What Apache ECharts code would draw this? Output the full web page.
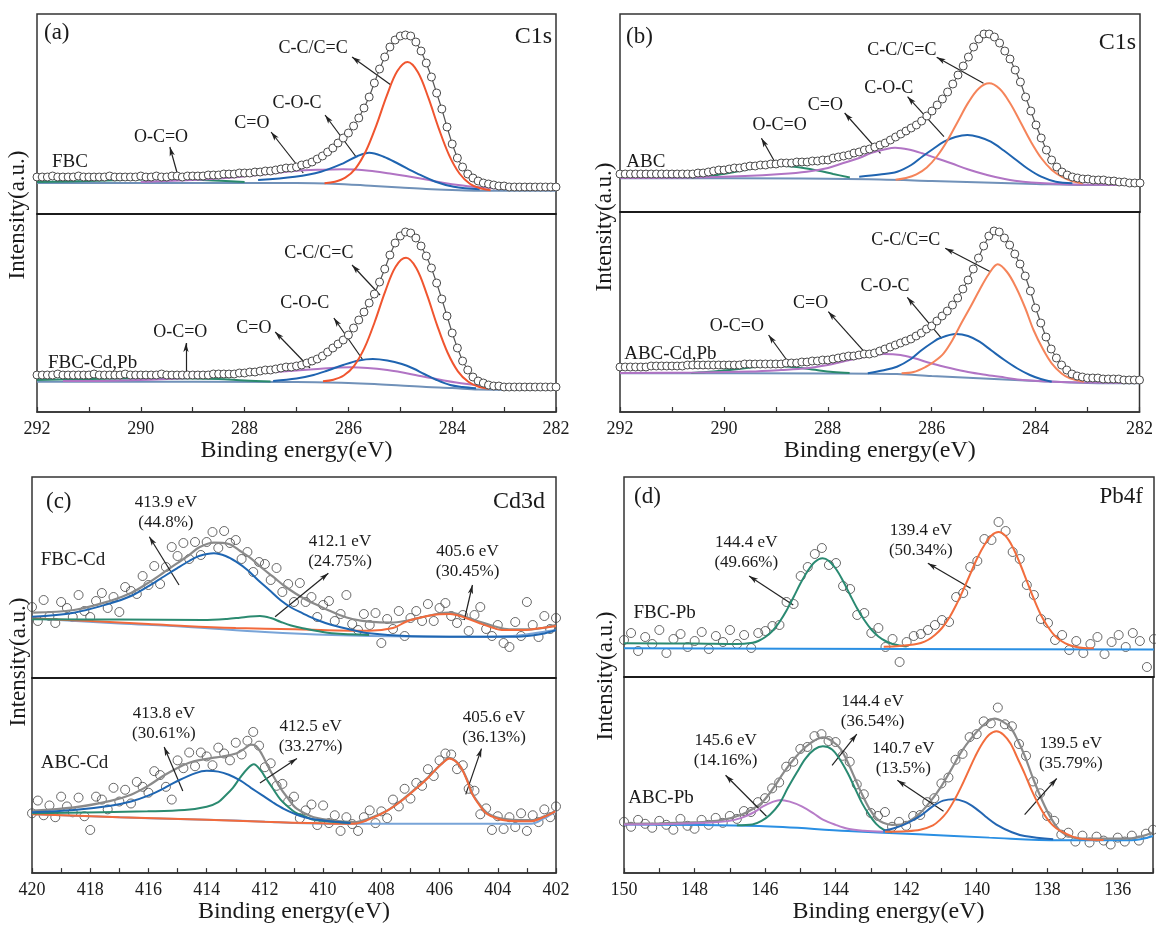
<!DOCTYPE html>
<html><head><meta charset="utf-8">
<script src="https://cdn.jsdelivr.net/npm/echarts/dist/echarts.min.js"></script>
<style>html,body{margin:0;padding:0;background:#fff}#c{width:1156px;height:925px}</style>
</head><body><div id="c"></div>
<script>
// ---------- energy grids ----------
const c1sE = Array.from({length:101}, (_, i) => +(292 - 0.1 * i).toFixed(2));
const cdE  = Array.from({length:91},  (_, i) => +(420 - 0.2 * i).toFixed(2));
const pbE  = Array.from({length:76},  (_, i) => +(150 - 0.2 * i).toFixed(2));

// ---------- tick labels ----------
const c1sTicks = [292, 290, 288, 286, 284, 282];
const cdTicks = [420, 418, 416, 414, 412, 410, 408, 406, 404, 402];
const pbTicks = [150, 148, 146, 144, 142, 140, 138, 136];

// ---------- (a) FBC C1s ----------
const aTopRaw = [37,37,37,38,37,37,37,37,38,37, 37,37,37,37,38,37,37,37,37,37, 38,37,37,38,37,37,38,38,37,38,
  38,38,38,39,39,39,40,40,40,41, 41,41,42,42,43,43,44,45,46,46, 47,49,50,52,55,58,62,66,71,76,
  81,88,96,106,117,131,145,157,167,174, 178,179,178,172,163,151,137,121,105,87,
  70,56,47,40,36,33,31,30,29,28, 28,27,27,27,27,27,27,27,27,27,27];
const aTopBg = [[292,31],[287,31],[286,29.5],[285.5,28],[285,26.5],[284.5,25],[284,24],[283.5,23.3],[282,23.3]];
const aTopGreen = [[292,32],[291,33],[290,34.5],[289.3,35],[288.6,33.5],[288,32]];
const aTopPurple = [[290,32],[289,34],[288.45,35.7],[287.74,39],[287.03,43],[286.5,44.3],[286.1,44.7],[285.6,43.3],[285.2,40.5],[284.89,38],[284.5,34.5],[284.18,31.3],[283.8,28.5],[283.47,26.7],[282.75,24.7],[282,24]];
const aTopBlue = [[287.74,34],[287.03,37.3],[286.53,42.3],[286.1,50.7],[285.82,58],[285.6,61.3],[285.32,57.3],[285.03,50],[284.68,40.7],[284.32,32.3],[283.97,27.3],[283.47,24.7]];
const aTopRed = [[286.46,30.8],[286.26,32.3],[286.06,36.3],[285.86,45.7],[285.66,63.2],[285.46,88.9],[285.26,118.4],[285.06,142.7],[284.86,152],[284.66,141.8],[284.46,116.3],[284.26,85.7],[284.06,58.9],[283.86,40.5],[283.66,30.3],[283.46,25.7],[283.26,23.8]];
const aTopNotes = [
  {text:'C-C/C=C', at:[286.68,166], from:[285.18,129], to:[285.93,157]},
  {text:'C-O-C', at:[286.99,111], from:[285.85,57], to:[286.45,99]},
  {text:'C=O', at:[287.86,91], from:[286.87,41], to:[287.49,82]},
  {text:'O-C=O', at:[289.61,77], from:[289.30,41], to:[289.44,67]},
  {text:'FBC', at:[291.71,52], name:true}
];

const aBotRaw = [37,37,37,37,38,37,37,37,37,37, 37,38,37,37,37,37,37,38,37,37, 37,37,37,37,38,37,37,37,37,37,
  37,37,37,37,38,38,38,38,38,39, 39,40,40,41,42,42,43,44,45,45, 46,47,49,51,53,56,60,64,68,72,
  77,84,92,100,109,118,130,143,157,169, 176,180,179,174,166,156,144,129,113,96,
  79,64,51,42,35,31,29,27,26,26, 25,25,25,25,25,25,25,25,25,25,25];
const aBotBg = [[292,30.3],[287,30],[286,29],[285.5,28],[285,26.5],[284.5,25],[284,24],[283.5,22.5],[282,22]];
const aBotGreen = [[292,32],[291,33],[290,33.5],[289,33.5],[288.5,33],[288,31.5],[287.5,30.5]];
const aBotPurple = [[291.5,31],[290.58,31.3],[289.16,33.7],[287.74,38.7],[286.67,42.7],[285.96,44.7],[285.25,42],[284.54,35.3],[283.83,28.7],[282.76,23.7],[282,22.7]];
const aBotBlue = [[287.45,31],[287,33.5],[286.67,37],[286.4,41.5],[286.1,47],[285.8,51.5],[285.53,53],[285.25,51.5],[284.97,48],[284.75,43.5],[284.54,38],[284.3,32],[284.04,27],[283.8,25],[283.54,23.7]];
const aBotRed = [[286.49,30.8],[286.29,32.3],[286.09,36.5],[285.89,46.2],[285.69,64.1],[285.49,90.5],[285.29,120.7],[285.09,145.3],[284.89,154.2],[284.69,143.8],[284.49,117.9],[284.29,86.7],[284.09,59.5],[283.89,40.7],[283.69,30.2],[283.49,25.2],[283.29,23.3]];
const aBotNotes = [
  {text:'C-C/C=C', at:[286.57,159], from:[285.39,117], to:[285.93,147]},
  {text:'C-O-C', at:[286.84,109], from:[285.72,52], to:[286.28,94]},
  {text:'C=O', at:[287.82,84], from:[286.74,44], to:[287.41,80]},
  {text:'O-C=O', at:[289.24,80], from:[289.13,35], to:[289.13,69]},
  {text:'FBC-Cd,Pb', at:[291.79,49], name:true}
];

// ---------- (b) ABC C1s ----------
const bTopRaw = [38,38,38,38,38,38,38,38,38,38, 38,38,38,38,38,39,39,40,41,42, 42,43,44,44,45,46,46,47,47,48,
  48,49,49,49,50,50,50,51,51,52, 52,54,55,56,57,59,60,62,63,65, 67,69,72,75,78,81,84,87,91,96,
  101,107,113,120,128,137,146,155,165,173, 178,178,175,169,161,153,142,130,115,101,
  87,74,62,52,45,40,37,35,34,33, 33,32,32,32,31,31,30,30,29,29,29];
const bTopBg = [[292,33.7],[288.5,33.5],[287,32.5],[286,31],[285,29.5],[284,28],[283,27],[282,27]];
const bTopGreen = [[290.63,34],[290.2,36.5],[289.8,40],[289.4,44],[289.0,46.3],[288.6,45],[288.2,41.5],[287.9,38],[287.58,34.5]];
const bTopPurple = [[292,34],[290.6,34.5],[289.6,36],[288.9,38],[288.41,40.3],[288.0,44],[287.72,48.7],[287.4,54],[287.16,59.3],[286.9,62.8],[286.71,64.3],[286.45,62.5],[286.19,58.7],[285.9,53.5],[285.63,48.7],[285.3,42.5],[284.94,37],[284.6,33],[284.25,30.3],[283.56,28],[282.8,27.2],[282,27]];
const bTopBlue = [[287.4,35.3],[287.0,37.5],[286.67,40.3],[286.4,47],[286.19,55.3],[285.98,63],[285.77,70.3],[285.55,75],[285.32,77],[285.1,75],[284.87,70.3],[284.62,61.5],[284.38,52],[284.15,43],[283.9,35.3],[283.62,30.3],[283.3,28.7]];
const bTopRed = [[286.7,32.3],[286.5,34],[286.3,37.6],[286.1,44.5],[285.9,56],[285.7,71.8],[285.5,90.8],[285.3,109.6],[285.1,123.5],[284.9,128.7],[284.7,123.2],[284.5,109],[284.3,90],[284.1,70.5],[283.9,54],[283.7,42.3],[283.5,35],[283.3,30.7],[283.1,28.5]];
const bTopNotes = [
  {text:'C-C/C=C', at:[286.58,162], from:[285.01,128.7], to:[285.91,154.7]},
  {text:'C-O-C', at:[286.83,124], from:[285.77,75.3], to:[286.47,115.3]},
  {text:'C=O', at:[288.05,107], from:[286.99,58.7], to:[287.68,99]},
  {text:'O-C=O', at:[288.93,87], from:[288.97,45.3], to:[289.28,73.7]},
  {text:'ABC', at:[291.88,50], name:true}
];

const bBotRaw = [45,45,45,45,45,45,46,46,46,46, 46,46,46,47,47,47,47,47,47,47, 47,47,47,47,48,48,48,48,48,48,
  48,48,49,49,49,50,50,51,51,52, 52,53,54,55,56,56,57,58,58,59, 61,63,65,67,69,71,73,76,79,83,
  86,91,96,101,107,114,123,132,143,154, 166,176,181,180,174,167,158,148,136,121,
  104,89,75,63,54,47,42,38,36,35, 34,34,34,33,33,33,33,32,32,32,32];
const bBotBg = [[292,38.7],[288,38.5],[286.67,38],[286,36],[285,33.5],[284,31],[283,29],[282,28.7]];
const bBotGreen = [[290.63,39],[290.2,40.5],[289.8,42.5],[289.4,45],[289.11,46.3],[288.7,45],[288.3,42.5],[287.9,40],[287.58,39]];
const bBotPurple = [[292,39],[290.5,39.5],[289.5,40.5],[288.9,42],[288.41,43.7],[288.0,47],[287.72,50.3],[287.3,55],[286.92,58],[286.6,57],[286.33,53.7],[286.0,48.5],[285.63,43.7],[285.3,40],[284.94,37],[284.6,34.5],[284.25,32],[283.5,30],[282,29.3]];
const bBotBlue = [[287.23,38.7],[286.95,41.5],[286.67,45.3],[286.4,53],[286.19,62],[286.0,69],[285.85,73.7],[285.53,78],[285.3,76],[285.08,70.3],[284.85,61.5],[284.6,52],[284.35,43.5],[284.11,37],[283.9,33],[283.69,30.3]];
const bBotRed = [[286.58,38.7],[286.35,40],[286.12,45],[285.95,50.5],[285.77,58.7],[285.6,72],[285.43,88.7],[285.25,105.5],[285.08,122],[284.9,138],[284.73,147.7],[284.55,140],[284.38,125],[284.2,104],[284.04,82],[283.86,63],[283.69,48.7],[283.5,38.5],[283.34,33.7],[283.07,30.3]];
const bBotNotes = [
  {text:'C-C/C=C', at:[286.5,172], from:[284.87,140.3], to:[285.74,163.7]},
  {text:'C-O-C', at:[286.9,125.3], from:[285.81,73.7], to:[286.47,114.7]},
  {text:'C=O', at:[288.33,109], from:[287.3,60.3], to:[287.99,100.3]},
  {text:'O-C=O', at:[289.75,85.3], from:[288.72,47], to:[289.14,77]},
  {text:'ABC-Cd,Pb', at:[291.92,57.7], name:true}
];

// ---------- (c) Cd3d ----------
const cTopRaw = [71,57,78,62,55,76,70,61,83,67, 61,77,85,70,81,66,91,87,84,102, 93,112,94,111,131,122,135,119,136,123,
  136,146,130,147,135,138,119,126,106,116, 114,98,110,86,94,76,95,76,81,61, 73,77,57,64,83,54,48,64,53,65,
  35,59,49,67,42,60,67,57,74,57, 70,75,62,55,63,47,63,71,49,42, 53,35,31,56,42,76,53,41,62,49,60];
const cTopBg = [[420,59.7],[418.5,57],[417,54.5],[414.76,51.3],[412,46],[409.7,43],[407,41.5],[404.62,41.3],[403.5,42],[402.8,44.5],[402,48]];
const cTopBlue = [[420,61.3],[418.56,65.3],[417.3,74.7],[416.6,82],[416.03,91.3],[415.5,101],[415.02,109.7],[414.6,117],[414.26,122],[413.75,124.7],[413.35,122],[412.99,116.3],[412.6,108],[412.24,98],[411.85,88],[411.47,78],[411.1,70.5],[410.7,64.7],[410.2,58],[409.7,53],[409.0,48],[408.42,44.7],[407.15,42],[405,41.3],[403.35,41.3],[402.5,44],[402,48]];
const cTopGreen = [[420,58.7],[417,58.5],[414.13,58],[413.3,59],[412.86,60.3],[412.5,61.5],[412.17,62],[411.8,60],[411.47,56.3],[411.1,52.5],[410.7,49.7],[410.2,47],[409.7,44.7],[408.42,43]];
const cTopOrange = [[420,59.7],[418,57],[416,54],[414.76,52],[413,50],[410.96,48.7],[409.5,47.5],[408.42,47.3],[407.6,50],[407.15,56.3],[406.8,59.5],[406.52,61.3],[406.1,63.5],[405.64,64],[405.1,60],[404.62,54.7],[404.2,50.5],[403.86,48],[403.1,48],[402.5,50],[402,52]];
const cTopEnv = [[419.96,65.3],[418.56,68],[417.3,77.3],[416.6,85],[416.03,94.7],[415.5,105],[415.02,114.7],[414.6,123],[414.25,130.7],[413.75,135.3],[413.24,134],[412.85,127],[412.48,119.7],[412.1,110],[411.72,101.3],[411.35,92.5],[410.96,84.7],[410.6,78.5],[410.2,73],[409.8,67.5],[409.44,63],[409,59],[408.42,56.3],[407.67,55.3],[407.1,57.5],[406.52,61.3],[406.1,64],[405.63,65.3],[405.1,61],[404.62,56.3],[404.1,51.5],[403.61,48.7],[402.85,48.7],[402.02,53]];
const cTopNotes = [
  {text:'413.9 eV\n(44.8%)', at:[415.4,165], from:[414.95,93], to:[415.97,141.3]},
  {text:'412.1 eV\n(24.75%)', at:[409.42,126.3], from:[411.65,61.3], to:[409.82,104.7]},
  {text:'405.6 eV\n(30.45%)', at:[405.04,116.3], from:[405.15,58], to:[404.87,93]},
  {text:'FBC-Cd', at:[419.7,118], name:true}
];

const cBotRaw = [61,74,59,69,57,78,68,62,77,58, 44,78,75,65,87,73,85,71,93,88, 82,104,100,88,75,115,107,123,109,123,
  119,110,128,122,115,133,121,135,144,130, 108,112,89,91,73,78,56,64,70,49, 69,51,59,43,57,50,43,57,64,51,
  63,56,75,68,86,76,92,89,106,99, 115,122,121,106,110,86,84,60,66,44, 58,45,57,47,61,43,59,52,65,57,68];
const cBotBg = [[420,60.3],[418,58],[416,56],[414,54.5],[412,52.5],[410.96,51],[409.7,50.3],[406,50.3],[402.85,50.3],[402.4,56],[402,63]];
const cBotBlue = [[420,62],[418.56,64.3],[417.3,68.7],[416.6,73],[416.03,78.7],[415.5,86],[415.02,93.7],[414.38,102],[414.0,104.3],[413.6,103.5],[413.24,100.3],[412.85,94.5],[412.48,87],[412.1,79.5],[411.72,72],[411.35,65.5],[410.96,60.3],[410.6,56.8],[410.2,54.3],[409.6,52.5],[409.06,51]];
const cBotGreen = [[420,61],[416.03,63],[414.76,64.3],[414.0,67.7],[413.6,72.5],[413.37,78.7],[413.1,87],[412.86,97],[412.6,106.5],[412.38,111],[412.15,105],[411.97,97],[411.72,86],[411.47,75.3],[411.2,67.5],[410.96,62],[410.6,57.5],[410.32,54.3],[409.06,51]];
const cBotOrange = [[420,60],[417,57],[414,54.5],[412,52.3],[410,50.8],[408.94,50.3],[408.4,55],[407.79,63.7],[407.25,75],[406.77,87],[406.4,97],[406.14,105.3],[405.9,112],[405.66,117],[405.45,114],[405.25,107],[405.05,94],[404.87,80.3],[404.6,68],[404.37,60.3],[404.05,56],[403.73,53.7],[403.3,53],[402.85,53],[402.4,57.5],[402.02,63]];
const cBotEnv = [[419.96,63.7],[418.56,67],[417.3,73.7],[416.6,80],[416.03,88.7],[415.5,99],[415.02,107],[414.6,112.5],[414.25,115.3],[413.8,117.5],[413.49,118.7],[412.99,122],[412.7,127],[412.48,131],[412.3,129.5],[412.1,121],[411.86,107],[411.47,87],[411.2,76],[410.96,67],[410.6,60.5],[410.32,57],[409.7,53.7],[408.94,52],[408.4,56],[407.79,64],[407.25,75.5],[406.77,87.5],[406.4,97.5],[406.14,105.5],[405.9,112.5],[405.66,117.5],[405.45,114.5],[405.25,107.5],[405.05,95],[404.87,81],[404.6,69],[404.37,61.5],[404.05,57],[403.73,55],[403.3,54],[402.85,54],[402.4,58],[402.02,63.5]];
const cBotNotes = [
  {text:'413.8 eV\n(30.61%)', at:[415.47,153], from:[414.82,83.7], to:[415.46,128.7]},
  {text:'412.5 eV\n(33.27%)', at:[410.43,139.5], from:[412.17,92], to:[410.9,117]},
  {text:'405.6 eV\n(36.13%)', at:[404.13,148.7], from:[405.1,80.3], to:[404.56,127]},
  {text:'ABC-Cd', at:[419.7,112], name:true}
];

// ---------- (d) Pb4f ----------
const dTopRaw = [37,44,26,40,33,47,24,38,43,30, 36,45,28,41,35,47,33,42,29,44, 46,51,52,75,73,101,110,123,129,112,
  114,91,88,62,64,44,49,30,38,15, 35,41,43,47,52,57,55,80,84,110, 116,138,137,155,146,125,118,92,82,58,
  54,37,42,27,36,24,33,40,23,35, 42,30,44,36,10,38];
const dTopBg = [[150,28.7],[142,28],[135,27.5]];
const dTopGreen = [[150,33.7],[148,33.5],[146.8,33],[146.36,34.3],[146.2,36],[146,40],[145.8,46],[145.6,55],[145.4,66.5],[145.2,80],[145,94],[144.8,106],[144.6,115],[144.38,118.7],[144.2,116],[144,108],[143.8,96],[143.6,82],[143.4,68.5],[143.2,57],[143,47.5],[142.8,40.5],[142.6,36],[142.4,33],[142.2,31.5],[142.0,30.5]];
const dTopOrange = [[142.65,30.3],[142.2,31],[141.8,32.5],[141.6,34],[141.4,37],[141.2,42],[141,49],[140.8,59],[140.6,72],[140.4,87],[140.2,103],[140,119],[139.8,132],[139.6,141.5],[139.4,145],[139.2,141],[139,130],[138.8,114],[138.6,96],[138.4,78],[138.2,62],[138,50],[137.8,41],[137.6,35.5],[137.4,32],[137.2,30],[137,29],[136.7,28.7]];
const dTopNotes = [
  {text:'144.4 eV\n(49.66%)', at:[146.54,124.5], from:[145.21,72], to:[146.46,101]},
  {text:'139.4 eV\n(50.34%)', at:[141.6,136.2], from:[140.19,88.7], to:[141.4,113.7]},
  {text:'FBC-Pb', at:[149.73,63.7], name:true}
];

const dBotRaw = [52,47,54,50,46,53,49,44,55,48, 45,54,49,56,51,58,55,63,62,72, 76,86,92,108,113,126,128,139,141,134,
  133,119,113,90,80,61,58,62,47,52, 48,58,59,72,76,91,97,115,121,138, 141,154,152,168,151,149,131,119,93,81,
  58,53,39,41,32,38,31,37,33,29, 36,32,38,33,40,44];
const dBotBg = [[150,49.3],[146.16,47.7],[143.65,42.7],[141.65,39.3],[139.64,36],[137.63,33.3],[135.62,33.3],[135,37.7]];
const dBotPurple = [[150,49.3],[148.5,50],[147.67,51],[147,53],[146.67,56],[146.3,62],[146.06,67.7],[145.8,72],[145.56,74.3],[145.3,72.5],[144.96,67.7],[144.6,60],[144.36,54.3],[144,49],[143.65,45],[143.2,43],[142.65,42]];
const dBotGreen = [[146.8,48.5],[146.36,49.3],[146.1,53],[145.86,59.3],[145.6,70],[145.36,86],[145.1,102],[144.86,116],[144.6,125.5],[144.36,128.7],[144.1,125.5],[143.86,114.3],[143.65,101],[143.45,86],[143.25,71],[143.05,59.3],[142.85,50],[142.65,44.3],[142.4,41.5]];
const dBotBlue = [[142.65,42.7],[142.3,46],[141.95,51],[141.6,58],[141.25,67.7],[140.95,73.5],[140.64,75],[140.35,72.5],[140.04,66],[139.75,57.5],[139.44,49.3],[139.0,41.5],[138.64,37.7],[137.83,34.3]];
const dBotOrange = [[142.6,42],[142.0,42.5],[141.6,44],[141.24,48.5],[141.04,54],[140.84,62],[140.64,73.6],[140.44,87.5],[140.24,103],[140.04,118.5],[139.84,131.5],[139.64,140.6],[139.44,144],[139.24,140.5],[139.04,131.5],[138.84,116.5],[138.64,101],[138.44,84],[138.24,69.3],[138.04,57],[137.84,48.4],[137.64,43],[137.24,36.5],[136.84,34],[136.4,33.5]];
const dBotEnv = [[150,50],[149,50.5],[148,51.5],[147.67,52],[147.2,54],[146.67,59.3],[146.35,65],[146.06,72.7],[145.75,87],[145.46,102.7],[145.15,117],[144.86,127.7],[144.6,134.5],[144.36,137.7],[144.1,134],[143.86,126],[143.65,112],[143.45,96],[143.25,80],[143.05,66],[142.85,56],[142.65,51],[142.4,49],[142.15,49.3],[141.9,53],[141.65,59.3],[141.35,71],[141.04,86],[140.74,104],[140.44,122.7],[140.14,137.5],[139.84,149.3],[139.65,154.5],[139.49,156.7],[139.25,153.5],[139.04,147.7],[138.84,135],[138.64,119.3],[138.4,96],[138.13,72.7],[137.88,55],[137.63,42.7],[137.38,37.5],[137.13,35.3],[136.5,35],[135.62,35.3],[135.3,37.5],[135.03,41]];
const dBotNotes = [
  {text:'144.4 eV\n(36.54%)', at:[142.95,163.5], from:[144.1,109.3], to:[143.4,141]},
  {text:'145.6 eV\n(14.16%)', at:[147.12,124.3], from:[145.96,57.7], to:[147.12,99.3]},
  {text:'140.7 eV\n(13.5%)', at:[142.08,116], from:[140.94,62.7], to:[142.25,94.3]},
  {text:'139.5 eV\n(35.79%)', at:[137.33,121], from:[138.64,59.3], to:[137.73,96]},
  {text:'ABC-Pb', at:[149.88,76], name:true}
];

// ---------- styling / layout ----------
const FONT = 'Liberation Serif';
const COL = {
  redA:'#f0552f', redB:'#f5845a', blue:'#1f64b0', purple:'#b174c4', green:'#2a8a6c', bgAB:'#7091b9',
  cBlue:'#1f66b2', cGreen:'#2b8a70', cOrange:'#f26a3c', cBg:'#78a4d8', env:'#8a8a8a',
  dGreen:'#2a8a72', dOrange:'#f26d3d', dPurple:'#b77cc8', dBlue:'#2466b2', dBg:'#2a8fe3'
};

const panels = [
  {g:[37,14,519,200], x:[282,292], ticks:c1sTicks, axis:false, E:c1sE, raw:aTopRaw, mode:'ab', fs:18,
   curves:[[aTopBg,COL.bgAB],[aTopGreen,COL.green],[aTopPurple,COL.purple],[aTopBlue,COL.blue],[aTopRed,COL.redA]], notes:aTopNotes},
  {g:[37,214,519,198], x:[282,292], ticks:c1sTicks, axis:true, E:c1sE, raw:aBotRaw, mode:'ab', fs:18,
   curves:[[aBotBg,COL.bgAB],[aBotGreen,COL.green],[aBotPurple,COL.purple],[aBotBlue,COL.blue],[aBotRed,COL.redA]], notes:aBotNotes},
  {g:[620,14,520,198], x:[282,292], ticks:c1sTicks, axis:false, E:c1sE, raw:bTopRaw, mode:'ab', fs:18,
   curves:[[bTopBg,COL.bgAB],[bTopGreen,COL.green],[bTopPurple,COL.purple],[bTopBlue,COL.blue],[bTopRed,COL.redB]], notes:bTopNotes},
  {g:[620,212,520,200], x:[282,292], ticks:c1sTicks, axis:true, E:c1sE, raw:bBotRaw, mode:'ab', fs:18,
   curves:[[bBotBg,COL.bgAB],[bBotGreen,COL.green],[bBotPurple,COL.purple],[bBotBlue,COL.blue],[bBotRed,COL.redB]], notes:bBotNotes},
  {g:[32,477,524,201], x:[402,420], ticks:cdTicks, axis:false, E:cdE, raw:cTopRaw, mode:'cd', fs:17, env:cTopEnv,
   curves:[[cTopBg,COL.cBg],[cTopOrange,COL.cOrange],[cTopGreen,COL.cGreen],[cTopBlue,COL.cBlue]], notes:cTopNotes},
  {g:[32,678,524,199], x:[402,420], ticks:cdTicks, axis:true, E:cdE, raw:cBotRaw, mode:'cd', fs:17, env:cBotEnv,
   curves:[[cBotBg,COL.cBg],[cBotOrange,COL.cOrange],[cBotGreen,COL.cGreen],[cBotBlue,COL.cBlue]], notes:cBotNotes},
  {g:[624,477,530,200], x:[135,150], ticks:pbTicks, axis:false, E:pbE, raw:dTopRaw, mode:'cd', fs:17,
   curves:[[dTopBg,COL.dBg],[dTopGreen,COL.dGreen],[dTopOrange,COL.dOrange]], notes:dTopNotes},
  {g:[624,677,530,199], x:[135,150], ticks:pbTicks, axis:true, E:pbE, raw:dBotRaw, mode:'cd', fs:17, env:dBotEnv,
   curves:[[dBotBg,COL.dBg],[dBotPurple,COL.dPurple],[dBotGreen,COL.dGreen],[dBotBlue,COL.dBlue],[dBotOrange,COL.dOrange]], notes:dBotNotes}
];

const grids = [], xAxes = [], yAxes = [], series = [];
panels.forEach((p, i) => {
  grids.push({left:p.g[0], top:p.g[1], width:p.g[2], height:p.g[3], show:true, borderColor:'#333', borderWidth:1.5, backgroundColor:'rgba(0,0,0,0)'});
  xAxes.push({
    gridIndex:i, type:'value', inverse:true, min:p.x[0], max:p.x[1], interval:1,
    axisLine:{show:true, onZero:false, lineStyle:{color:p.axis ? '#333' : '#111', width:1.6}},
    axisTick:{show:p.axis, inside:true, length:5, lineStyle:{color:'#333', width:1.2}},
    axisLabel:{show:p.axis, margin:8, color:'#1a1a1a', fontSize:18, fontFamily:FONT,
      formatter: v => (p.ticks.indexOf(Math.round(v)) >= 0 && Math.abs(v - Math.round(v)) < 1e-6) ? String(Math.round(v)) : ''},
    splitLine:{show:false},
    name: p.axis ? 'Binding energy(eV)' : '', nameLocation:'middle', nameGap: p.g[1] > 400 ? 19 : 21,
    nameTextStyle:{fontSize:24, fontFamily:FONT, color:'#1a1a1a'}
  });
  yAxes.push({gridIndex:i, type:'value', min:0, max:p.g[3], show:false});
  const common = {xAxisIndex:i, yAxisIndex:i, silent:true, animation:false};
  p.curves.forEach(([data, color], k) => {
    series.push(Object.assign({}, common, {type:'line', data, smooth:0.35, symbol:'none', showSymbol:false,
      lineStyle:{color, width:2}, z: k === 0 ? 3 : 5}));
  });
  if (p.env) series.push(Object.assign({}, common, {type:'line', data:p.env, smooth:0.35, symbol:'none',
      lineStyle:{color:COL.env, width:2.2}, z:4}));
  const rawData = p.raw.map((v, j) => [p.E[j], v]);
  if (p.mode === 'ab') {
    series.push(Object.assign({}, common, {type:'line', data:rawData, symbol:'circle', symbolSize:8, showSymbol:true,
      lineStyle:{color:'#555', width:1.2}, itemStyle:{color:'#fff', borderColor:'#4a4a4a', borderWidth:1}, z:6}));
  } else {
    series.push(Object.assign({}, common, {type:'scatter', data:rawData, symbol:'circle', symbolSize:9,
      itemStyle:{color:'rgba(255,255,255,0)', borderColor:'#444', borderWidth:1}, z:2}));
  }
  series.push(Object.assign({}, common, {
    type:'line', data:p.curves[0][0], symbol:'none', lineStyle:{opacity:0}, z:9,
    markLine:{silent:true, animation:false, symbol:['none','arrow'], symbolSize:[4,9],
      label:{show:false}, lineStyle:{color:'#222', width:1.2, type:'solid'},
      data: p.notes.filter(n => n.from).map(n => [{coord:n.from}, {coord:n.to}])},
    markPoint:{silent:true, animation:false, symbol:'circle', symbolSize:1, itemStyle:{color:'rgba(0,0,0,0)'},
      data: p.notes.map(n => ({coord:n.at, value:0, label:{show:true, position:'inside', formatter:n.text,
        align: n.name ? 'left' : 'center', verticalAlign:'middle', color:'#1a1a1a', fontFamily:FONT,
        fontSize: n.name ? 19 : p.fs, lineHeight:20}}))}
  }));
});

const panelTexts = [
  {t:'(a)', x:44, y:33, a:'left', s:23}, {t:'C1s', x:552, y:37, a:'right', s:24},
  {t:'(b)', x:626, y:37, a:'left', s:23}, {t:'C1s', x:1136, y:43, a:'right', s:24},
  {t:'(c)', x:46, y:502, a:'left', s:23}, {t:'Cd3d', x:545, y:502, a:'right', s:24},
  {t:'(d)', x:634, y:497, a:'left', s:23}, {t:'Pb4f', x:1143, y:497, a:'right', s:23}
];
const yTitles = [{x:18, y:215}, {x:605, y:227}, {x:19, y:662}, {x:606, y:676}];
const graphic = panelTexts.map(o => ({type:'text', x:o.x, y:o.y, silent:true,
  style:{text:o.t, fontSize:o.s, fontFamily:FONT, fill:'#1a1a1a', align:o.a, verticalAlign:'middle'}}))
  .concat(yTitles.map(o => ({type:'text', x:o.x, y:o.y, rotation:Math.PI / 2, silent:true,
  style:{text:'Intensity(a.u.)', fontSize:23, fontFamily:FONT, fill:'#1a1a1a', align:'center', verticalAlign:'middle'}})));

const chart = echarts.init(document.getElementById('c'), null, {renderer:'canvas'});
chart.setOption({backgroundColor:'#fff', animation:false, grid:grids, xAxis:xAxes, yAxis:yAxes, series, graphic});
</script></body></html>
